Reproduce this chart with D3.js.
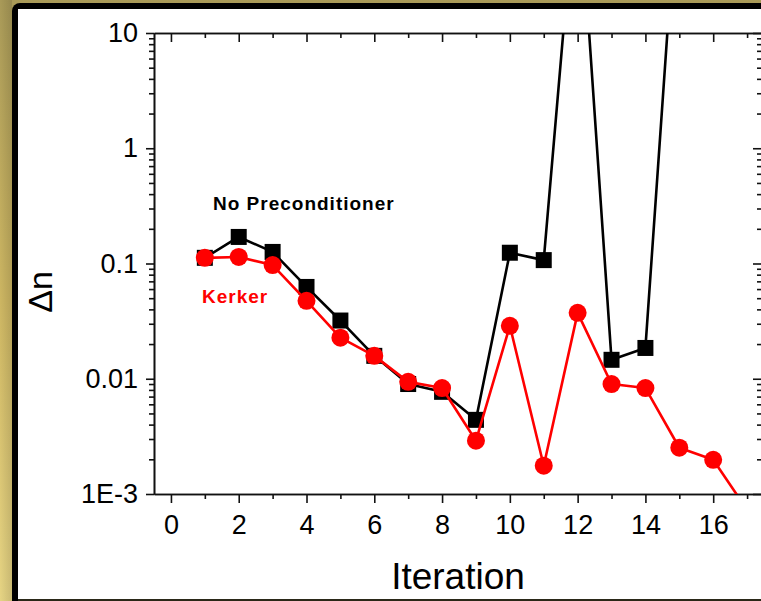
<!DOCTYPE html>
<html>
<head>
<meta charset="utf-8">
<script src="https://cdn.jsdelivr.net/npm/d3@7"></script>
<style>
  html, body { margin: 0; padding: 0; background: #fff; }
  svg { display: block; }
  text { font-family: "Liberation Sans", Arial, sans-serif; }
</style>
</head>
<body>
<script>
// ---- data ----
const iterationsNoPre = [1, 2, 3, 4, 5, 6, 7, 8, 9, 10, 11, 12, 13, 14, 15];
const valuesNoPre = [0.112, 0.170, 0.126, 0.0626, 0.032, 0.0158, 0.0090, 0.0077, 0.0044, 0.124, 0.107, 286, 0.0146, 0.0185, 309];
const iterationsKerker = [1, 2, 3, 4, 5, 6, 7, 8, 9, 10, 11, 12, 13, 14, 15, 16, 17];
const valuesKerker = [0.112, 0.114, 0.097, 0.0474, 0.0227, 0.0158, 0.0094, 0.0083, 0.0029, 0.0288, 0.00176, 0.0373, 0.0090, 0.0083, 0.00252, 0.00198, 0.00073];
const xMajorTicks = [0, 2, 4, 6, 8, 10, 12, 14, 16];
const xMinorTicks = [1, 3, 5, 7, 9, 11, 13, 15, 17];
const yMajorTicks = [0.001, 0.01, 0.1, 1, 10];
const yMajorLabels = ["1E-3", "0.01", "0.1", "1", "10"];
const seriesNames = ["No Preconditioner", "Kerker"];
const xTitle = "Iteration";
const yTitle = "\u0394n";

const W = 761, H = 601;
const L = 154, R = 762, T = 33, B = 494;

const svg = d3.select("body").append("svg").attr("width", W).attr("height", H);

// ---- frame ----
const defs = svg.append("defs");
const g1 = defs.append("linearGradient").attr("id", "goldL").attr("x1", 0).attr("y1", 0).attr("x2", 0).attr("y2", 1);
g1.append("stop").attr("offset", 0).attr("stop-color", "#a99a58");
g1.append("stop").attr("offset", 0.5).attr("stop-color", "#cdb662");
g1.append("stop").attr("offset", 1).attr("stop-color", "#e6d484");
const g2 = defs.append("linearGradient").attr("id", "goldH").attr("x1", 0).attr("y1", 0).attr("x2", 1).attr("y2", 0);
g2.append("stop").attr("offset", 0).attr("stop-color", "#000").attr("stop-opacity", 0.0);
g2.append("stop").attr("offset", 1).attr("stop-color", "#000").attr("stop-opacity", 0.12);
svg.append("rect").attr("x", 0).attr("y", 0).attr("width", W).attr("height", H).attr("fill", "url(#goldL)");
svg.append("rect").attr("x", 0).attr("y", 0).attr("width", 12).attr("height", H).attr("fill", "url(#goldH)");
svg.append("rect").attr("x", 12).attr("y", 3).attr("width", W + 20).attr("height", H + 20).attr("rx", 8).attr("fill", "#000");
svg.append("rect").attr("x", 18).attr("y", 9).attr("width", W).attr("height", 590).attr("fill", "#fff");
svg.append("rect").attr("x", 18).attr("y", 599).attr("width", W).attr("height", 2).attr("fill", "#2a2818");

// ---- scales ----
const x = d3.scaleLinear().domain([-0.5, 17.44]).range([L, R]);
const y = d3.scaleLog().domain([1e-3, 10]).range([B, T]);

const yMinor = [];
for (let e = -3; e < 1; e++) for (let k = 2; k <= 9; k++) yMinor.push(k * Math.pow(10, e));

function styleAxis(g) {
  g.selectAll("path.domain").attr("stroke", "#111").attr("stroke-width", 1.6);
  g.selectAll(".tick line").attr("stroke", "#111").attr("stroke-width", 1.6);
  g.selectAll("text").attr("fill", "#000").style("font-size", "27px");
}

// bottom
svg.append("g").attr("transform", `translate(0,${B})`)
  .call(d3.axisBottom(x).tickValues(xMinorTicks).tickSize(5).tickSizeOuter(0).tickFormat(""))
  .call(styleAxis);
svg.append("g").attr("transform", `translate(0,${B})`)
  .call(d3.axisBottom(x).tickValues(xMajorTicks).tickSize(9).tickSizeOuter(0).tickPadding(12).tickFormat(d3.format("d")))
  .call(styleAxis);
// top (inward)
svg.append("g").attr("transform", `translate(0,${T})`)
  .call(d3.axisTop(x).tickValues(xMinorTicks).tickSize(-5).tickSizeOuter(0).tickFormat(""))
  .call(styleAxis);
svg.append("g").attr("transform", `translate(0,${T})`)
  .call(d3.axisTop(x).tickValues(xMajorTicks).tickSize(-9).tickSizeOuter(0).tickFormat(""))
  .call(styleAxis);
// left
svg.append("g").attr("transform", `translate(${L},0)`)
  .call(d3.axisLeft(y).tickValues(yMinor).tickSize(5).tickSizeOuter(0).tickFormat(""))
  .call(styleAxis);
svg.append("g").attr("transform", `translate(${L},0)`)
  .call(d3.axisLeft(y).tickValues(yMajorTicks).tickSize(8).tickSizeOuter(0).tickPadding(8)
    .tickFormat((d, i) => yMajorLabels[i]))
  .call(styleAxis);
// right (inward)
svg.append("g").attr("transform", `translate(${R},0)`)
  .call(d3.axisRight(y).tickValues(yMinor).tickSize(-5).tickSizeOuter(0).tickFormat(""))
  .call(styleAxis);
svg.append("g").attr("transform", `translate(${R},0)`)
  .call(d3.axisRight(y).tickValues(yMajorTicks).tickSize(-9).tickSizeOuter(0).tickFormat(""))
  .call(styleAxis);

// ---- clip ----
defs.append("clipPath").attr("id", "plotClip").append("rect")
  .attr("x", L).attr("y", T).attr("width", R - L).attr("height", B - T);
const plot = svg.append("g").attr("clip-path", "url(#plotClip)");

const line = d3.line().x(d => x(d[0])).y(d => y(d[1]));
const noPre = iterationsNoPre.map((v, i) => [v, valuesNoPre[i]]);
const kerker = iterationsKerker.map((v, i) => [v, valuesKerker[i]]);

// No preconditioner (black)
plot.append("path").datum(noPre).attr("d", line)
  .attr("fill", "none").attr("stroke", "#000").attr("stroke-width", 2.6).attr("stroke-linejoin", "round");
plot.selectAll("rect.sq").data(noPre).enter().append("rect").attr("class", "sq")
  .attr("x", d => x(d[0]) - 8).attr("y", d => y(d[1]) - 8)
  .attr("width", 16).attr("height", 16).attr("fill", "#000");

// Kerker (red)
plot.append("path").datum(kerker).attr("d", line)
  .attr("fill", "none").attr("stroke", "#ff0000").attr("stroke-width", 2.6).attr("stroke-linejoin", "round");
plot.selectAll("circle.ci").data(kerker).enter().append("circle").attr("class", "ci")
  .attr("cx", d => x(d[0])).attr("cy", d => y(d[1])).attr("r", 9).attr("fill", "#ff0000");

// ---- labels ----
svg.append("text").attr("x", 213).attr("y", 210)
  .style("font-size", "19px").style("font-weight", "bold").style("letter-spacing", "1px")
  .attr("fill", "#000").text(seriesNames[0]);
svg.append("text").attr("x", 202).attr("y", 303)
  .style("font-size", "19px").style("font-weight", "bold").style("letter-spacing", "1px")
  .attr("fill", "#ff0000").text(seriesNames[1]);

svg.append("text").attr("x", (L + R) / 2).attr("y", 589).attr("text-anchor", "middle")
  .style("font-size", "37px").attr("fill", "#000").text(xTitle);
svg.append("text").attr("transform", "translate(52,292) rotate(-90)").attr("text-anchor", "middle")
  .style("font-size", "34px").attr("fill", "#000").text(yTitle);
</script>
</body>
</html>
